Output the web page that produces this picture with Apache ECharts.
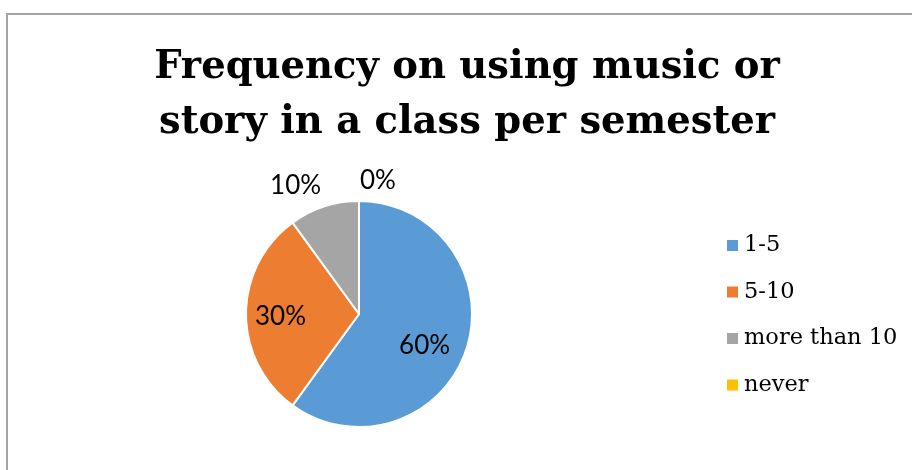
<!DOCTYPE html>
<html>
<head>
<meta charset="utf-8">
<title>Frequency on using music or story</title>
<script src="https://cdn.jsdelivr.net/npm/echarts@6/dist/echarts.min.js"></script>
<style>
    html, body { margin: 0; padding: 0; background: #fff; }
    #chart { width: 912px; height: 470px; }
</style>
</head>
<body>
<div id="chart"></div>
<script>
// categories and shares (percent)
const categories = ['1-5', '5-10', 'more than 10', 'never'];
const values = [60, 30, 10, 0];
const colors = ['#5B9BD5', '#ED7D31', '#A5A5A5', '#FFC000'];
// label nudges so they sit where the original put them
const labelOffsets = [[9, 13], [-19, 3], [-45, -72], [19, -74]];

const myChart = echarts.init(document.getElementById('chart'));

const option = {
    animation: false,
    backgroundColor: '#fff',
    graphic: [
        {
            // chart frame, only left/top edges are inside the picture
            type: 'rect',
            shape: { x: 7, y: 14, width: 1200, height: 1200 },
            style: { fill: 'none', stroke: '#a3a3a3', lineWidth: 2 },
            silent: true
        }
    ],
    title: {
        text: 'Frequency on using music or\nstory in a class per semester',
        left: 462,
        top: 35,
        textAlign: 'center',
        textStyle: {
            fontFamily: 'DejaVu Serif',
            fontWeight: 'bold',
            fontSize: 38.5,
            lineHeight: 55,
            color: '#000'
        }
    },
    legend: {
        orient: 'vertical',
        left: 720,
        top: 229,
        itemWidth: 13,
        itemHeight: 13,
        itemGap: 23.5,
        icon: 'rect',
        data: categories,
        textStyle: {
            fontFamily: 'DejaVu Serif',
            fontSize: 22.5,
            lineHeight: 22,
            color: '#000'
        }
    },
    series: [
        {
            type: 'pie',
            center: [359, 314],
            radius: 113,
            startAngle: 90,
            clockwise: true,
            avoidLabelOverlap: false,
            itemStyle: {
                borderColor: '#fff',
                borderWidth: 2
            },
            labelLine: { show: false },
            label: {
                show: true,
                position: 'inside',
                formatter: '{c}%',
                fontFamily: 'Lato',
                fontSize: 26,
                color: '#000'
            },
            data: categories.map((name, i) => ({
                name: name,
                value: values[i],
                itemStyle: { color: colors[i] },
                label: { offset: labelOffsets[i] }
            }))
        }
    ]
};

myChart.setOption(option);
</script>
</body>
</html>
